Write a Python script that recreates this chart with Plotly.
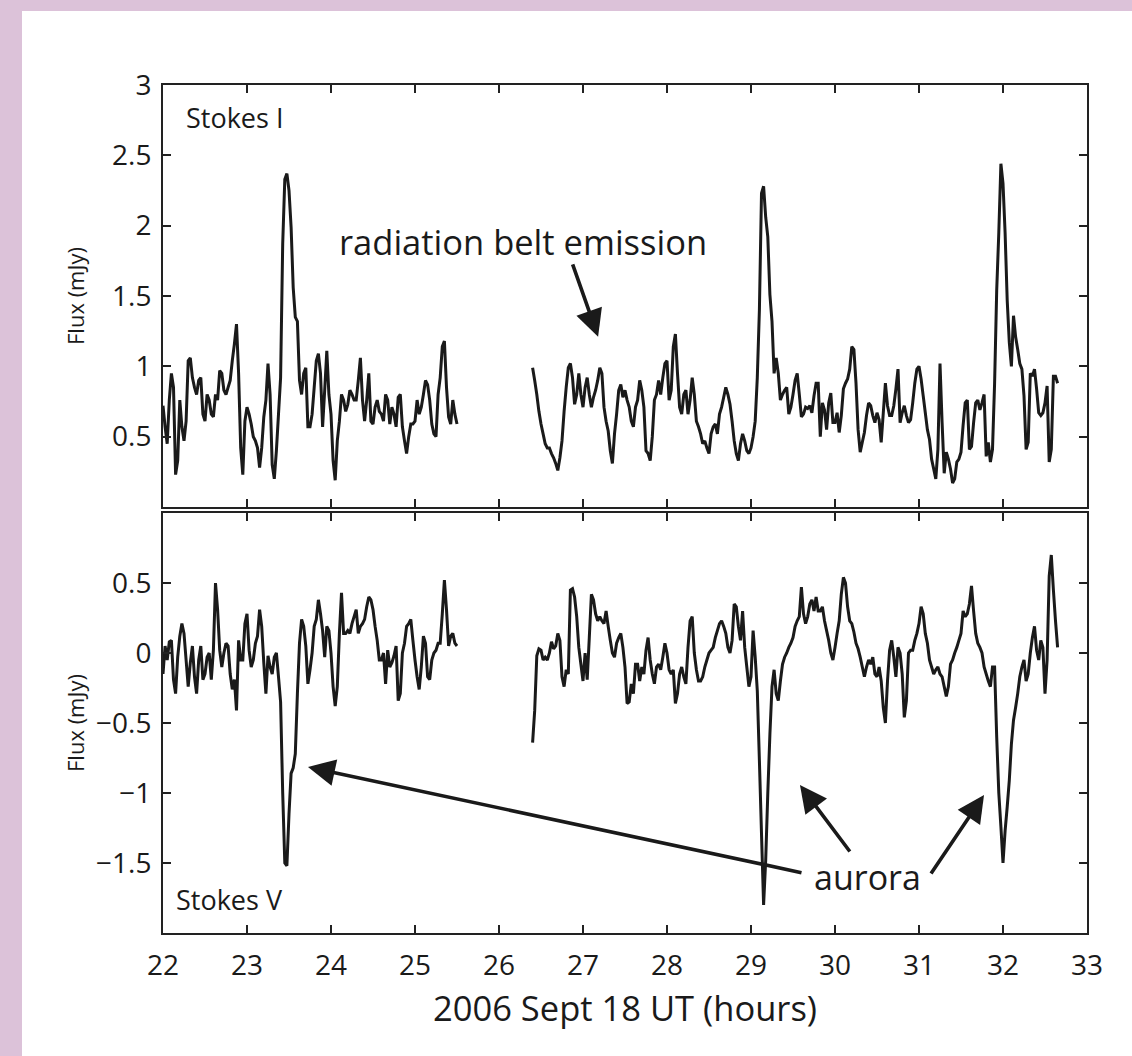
import numpy as np
import plotly.graph_objects as go

# ---------------- data ----------------
STEP = 0.025           # hours between samples
SEG1_START = 22.00     # first observing block start (h)
SEG2_START = 26.40     # second observing block start (h)

stokes_i_seg1 = [
    0.72, 0.57, 0.45, 0.76, 0.95, 0.85, 0.23, 0.33, 0.76, 0.57,
    0.47, 0.61, 1.04, 1.06, 0.92, 0.85, 0.80, 0.90, 0.92, 0.66,
    0.61, 0.80, 0.76, 0.66, 0.64, 0.80, 0.76, 0.97, 0.95, 0.83,
    0.80, 0.85, 0.90, 1.04, 1.16, 1.30, 0.95, 0.42, 0.23, 0.61,
    0.71, 0.66, 0.59, 0.50, 0.47, 0.42, 0.28, 0.42, 0.64, 0.76,
    1.02, 0.80, 0.30, 0.20, 0.40, 0.66, 0.92, 1.87, 2.33, 2.37,
    2.25, 1.99, 1.56, 1.35, 1.32, 0.90, 0.80, 0.95, 0.99, 0.57,
    0.57, 0.66, 0.85, 1.04, 1.09, 0.95, 0.57, 0.83, 1.11, 0.80,
    0.66, 0.33, 0.19, 0.47, 0.61, 0.80, 0.76, 0.68, 0.73, 0.83,
    0.80, 0.76, 0.76, 0.90, 1.06, 0.76, 0.61, 0.76, 0.95, 0.61,
    0.59, 0.71, 0.76, 0.68, 0.66, 0.61, 0.80, 0.76, 0.59, 0.71,
    0.66, 0.57, 0.78, 0.80, 0.57, 0.47, 0.38, 0.50, 0.59, 0.59,
    0.61, 0.76, 0.66, 0.71, 0.80, 0.90, 0.87, 0.76, 0.59, 0.52,
    0.50, 0.80, 0.92, 1.14, 1.18, 0.85, 0.64, 0.59, 0.76, 0.66,
    0.59,
]
stokes_i_seg2 = [
    0.99, 0.90, 0.80, 0.68, 0.59, 0.52, 0.45, 0.42, 0.42, 0.38,
    0.35, 0.31, 0.26, 0.35, 0.47, 0.68, 0.85, 0.99, 1.02, 0.92,
    0.73, 0.80, 0.95, 0.80, 0.71, 0.85, 0.92, 0.80, 0.71, 0.78,
    0.83, 0.90, 0.99, 0.95, 0.71, 0.61, 0.54, 0.40, 0.31, 0.52,
    0.66, 0.83, 0.87, 0.78, 0.83, 0.76, 0.71, 0.61, 0.57, 0.71,
    0.76, 0.90, 0.83, 0.71, 0.40, 0.38, 0.33, 0.50, 0.76, 0.80,
    0.90, 0.80, 0.92, 1.02, 1.04, 0.76, 0.83, 1.14, 1.23, 0.95,
    0.71, 0.66, 0.80, 0.83, 0.66, 0.76, 0.92, 0.80, 0.61, 0.57,
    0.52, 0.45, 0.47, 0.42, 0.38, 0.52, 0.57, 0.59, 0.52, 0.66,
    0.71, 0.78, 0.85, 0.80, 0.73, 0.61, 0.47, 0.38, 0.33, 0.45,
    0.52, 0.47, 0.40, 0.38, 0.42, 0.50, 0.61, 0.92, 1.40, 2.23,
    2.28, 2.06, 1.92, 1.51, 1.32, 0.95, 1.06, 0.95, 0.76, 0.80,
    0.83, 0.85, 0.66, 0.71, 0.80, 0.90, 0.95, 0.80, 0.64, 0.66,
    0.71, 0.70, 0.72, 0.67, 0.79, 0.88, 0.88, 0.50, 0.74, 0.69,
    0.55, 0.74, 0.81, 0.60, 0.60, 0.67, 0.53, 0.65, 0.84, 0.88,
    0.91, 0.98, 1.14, 1.12, 0.88, 0.55, 0.39, 0.46, 0.53, 0.65,
    0.74, 0.72, 0.65, 0.60, 0.67, 0.62, 0.46, 0.67, 0.88, 0.72,
    0.65, 0.65, 0.72, 0.84, 0.98, 0.60, 0.67, 0.72, 0.65, 0.60,
    0.62, 0.74, 0.88, 0.98, 1.00, 0.91, 0.79, 0.67, 0.55, 0.48,
    0.34, 0.27, 0.20, 0.41, 1.02, 0.60, 0.24, 0.39, 0.34, 0.27,
    0.17, 0.20, 0.32, 0.34, 0.39, 0.58, 0.74, 0.76, 0.41, 0.43,
    0.60, 0.74, 0.76, 0.69, 0.74, 0.80, 0.36, 0.46, 0.32, 0.41,
    0.88, 1.54, 1.95, 2.44, 2.30, 1.95, 1.47, 1.17, 1.00, 1.36,
    1.21, 1.12, 1.02, 0.98, 0.79, 0.41, 0.46, 0.95, 0.93, 0.98,
    0.84, 0.67, 0.65, 0.67, 0.74, 0.86, 0.32, 0.41, 0.93, 0.93,
    0.88,
]
stokes_v_seg1 = [
    -0.15, 0.05, -0.05, 0.08, 0.09, -0.19, -0.29, -0.03, 0.12, 0.21,
    0.14, -0.05, -0.24, -0.07, 0.05, -0.17, -0.29, -0.05, 0.05, -0.19,
    -0.15, -0.03, 0.00, -0.19, 0.02, 0.50, 0.31, 0.02, -0.10, 0.00,
    0.07, 0.05, -0.15, -0.26, -0.19, -0.41, 0.09, -0.05, -0.05, 0.21,
    0.28, 0.02, -0.10, -0.05, 0.07, 0.12, 0.31, 0.19, -0.07, -0.29,
    -0.02, -0.10, -0.15, -0.03, 0.00, -0.17, -0.35, -1.00, -1.50, -1.52,
    -1.15, -0.86, -0.82, -0.72, -0.29, 0.07, 0.24, 0.19, 0.05, -0.22,
    -0.12, 0.00, 0.19, 0.24, 0.38, 0.28, 0.16, -0.03, 0.19, 0.16,
    0.00, -0.24, -0.38, -0.24, 0.14, 0.43, 0.14, 0.14, 0.16, 0.14,
    0.21, 0.26, 0.31, 0.14, 0.19, 0.21, 0.24, 0.33, 0.40, 0.38,
    0.31, 0.19, 0.09, -0.05, -0.05, 0.00, -0.22, 0.02, -0.10, -0.07,
    -0.02, 0.05, -0.34, -0.29, 0.00, 0.07, 0.19, 0.21, 0.24, 0.09,
    -0.05, -0.17, -0.26, -0.10, 0.12, 0.07, -0.17, -0.19, -0.05, 0.00,
    0.02, 0.07, 0.07, 0.28, 0.52, 0.31, 0.05, 0.12, 0.14, 0.07,
    0.05,
]
stokes_v_seg2 = [
    -0.64, -0.41, -0.02, 0.03, 0.02, -0.05, -0.03, -0.05, 0.00, 0.08,
    0.03, 0.05, 0.14, 0.09, -0.17, -0.24, -0.12, -0.15, 0.45, 0.46,
    0.40, 0.26, 0.04, -0.08, -0.20, 0.00, -0.19, 0.11, 0.42, 0.38,
    0.28, 0.23, 0.26, 0.23, 0.21, 0.30, 0.19, 0.09, 0.00, -0.03,
    0.07, 0.11, 0.14, 0.04, -0.10, -0.36, -0.35, -0.22, -0.29, -0.08,
    -0.08, -0.20, -0.10, -0.15, 0.02, 0.11, -0.05, -0.15, -0.22, -0.10,
    -0.08, -0.12, -0.03, 0.07, 0.00, -0.12, -0.15, -0.12, -0.36, -0.29,
    -0.15, -0.10, -0.17, -0.22, 0.04, 0.23, 0.26, 0.00, -0.12, -0.20,
    -0.20, -0.17, -0.10, -0.05, 0.00, 0.02, 0.04, 0.11, 0.16, 0.21,
    0.23, 0.19, 0.14, 0.04, 0.00, 0.09, 0.35, 0.33, 0.19, 0.09,
    0.30, 0.04, -0.10, -0.24, -0.17, 0.16, -0.03, -0.27, -0.77, -1.29,
    -1.80, -1.48, -1.00, -0.58, -0.24, -0.12, -0.29, -0.34, -0.20, -0.08,
    -0.03, 0.00, 0.04, 0.07, 0.11, 0.19, 0.23, 0.26, 0.47, 0.28,
    0.21, 0.26, 0.35, 0.38, 0.30, 0.40, 0.30, 0.30, 0.33, 0.23,
    0.16, 0.09, 0.00, -0.05, 0.04, 0.14, 0.23, 0.42, 0.54, 0.50,
    0.33, 0.23, 0.21, 0.15, 0.07, 0.03, -0.03, -0.10, -0.17, -0.10,
    -0.05, -0.08, -0.03, -0.15, -0.17, -0.10, -0.20, -0.39, -0.50, -0.20,
    0.02, 0.09, -0.03, -0.17, 0.04, 0.00, -0.15, -0.46, -0.34, 0.00,
    0.02, 0.02, 0.09, 0.14, 0.21, 0.33, 0.28, 0.14, 0.07, -0.05,
    -0.10, -0.15, -0.12, -0.10, -0.15, -0.17, -0.24, -0.31, -0.24, -0.08,
    -0.05, 0.00, 0.04, 0.09, 0.14, 0.30, 0.26, 0.28, 0.35, 0.48,
    0.30, 0.14, 0.07, 0.04, 0.00, -0.10, -0.15, -0.20, -0.24, -0.10,
    -0.10, -0.60, -1.00, -1.24, -1.50, -1.27, -1.10, -0.91, -0.65, -0.48,
    -0.39, -0.29, -0.17, -0.10, -0.05, -0.20, -0.15, 0.00, 0.11, 0.19,
    0.02, -0.05, 0.09, 0.04, -0.29, -0.05, 0.55, 0.70, 0.45, 0.23,
    0.04,
]

x_tickvals = [22, 23, 24, 25, 26, 27, 28, 29, 30, 31, 32, 33]
x_ticktext = ["22", "23", "24", "25", "26", "27", "28", "29", "30", "31", "32", "33"]
yi_tickvals = [0.5, 1, 1.5, 2, 2.5, 3]
yi_ticktext = ["0.5", "1", "1.5", "2", "2.5", "3"]
yv_tickvals = [-1.5, -1, -0.5, 0, 0.5]
yv_ticktext = ["\u22121.5", "\u22121", "\u22120.5", "0", "0.5"]

# ---------------- build ----------------
t_i1 = np.round(SEG1_START + STEP * np.arange(len(stokes_i_seg1)), 4)
t_i2 = np.round(SEG2_START + STEP * np.arange(len(stokes_i_seg2)), 4)
t_v1 = np.round(SEG1_START + STEP * np.arange(len(stokes_v_seg1)), 4)
t_v2 = np.round(SEG2_START + STEP * np.arange(len(stokes_v_seg2)), 4)

xi = list(t_i1) + [None] + list(t_i2)
yi = stokes_i_seg1 + [None] + stokes_i_seg2
xv = list(t_v1) + [None] + list(t_v2)
yv = stokes_v_seg1 + [None] + stokes_v_seg2

FONT = "Open Sans, Noto Sans, DejaVu Sans, sans-serif"
INK = "#1a1a1a"
LINE_COL = "#1a1a1a"

fig = go.Figure()
fig.add_trace(go.Scatter(x=xi, y=yi, mode="lines", xaxis="x", yaxis="y",
                         line=dict(color=LINE_COL, width=3.0, simplify=False),
                         connectgaps=False, showlegend=False, hoverinfo="skip"))
fig.add_trace(go.Scatter(x=xv, y=yv, mode="lines", xaxis="x2", yaxis="y2",
                         line=dict(color=LINE_COL, width=3.0, simplify=False),
                         connectgaps=False, showlegend=False, hoverinfo="skip"))

W, H = 1132, 1056
ML, MR, MT, MB = 163, 45, 85, 123
PW, PH = W - ML - MR, H - MT - MB


def px_x(x):
    return (x - ML) / PW


def px_y(y):
    return (H - MB - y) / PH


axis_common = dict(
    showline=True, linecolor="#222222", linewidth=2, mirror="ticks",
    ticks="inside", ticklen=8, tickwidth=1.6, tickcolor="#222222",
    showgrid=False, zeroline=False,
    tickfont=dict(family=FONT, size=28, color=INK),
)

fig.update_layout(
    width=W, height=H,
    margin=dict(l=ML, r=MR, t=MT, b=MB),
    paper_bgcolor="#dcc2d9",
    plot_bgcolor="rgba(0,0,0,0)",
    font=dict(family=FONT, color=INK),
    xaxis=dict(range=[22, 33], domain=[0, 1], anchor="y",
               tickvals=x_tickvals, ticktext=x_ticktext, showticklabels=False,
               **axis_common),
    yaxis=dict(range=[0, 3], domain=[px_y(507), 1], anchor="x",
               tickvals=yi_tickvals, ticktext=yi_ticktext, ticklabelstandoff=4,
               **axis_common),
    xaxis2=dict(range=[22, 33], domain=[0, 1], anchor="y2",
                tickvals=x_tickvals, ticktext=x_ticktext, ticklabelstandoff=6,
                **axis_common),
    yaxis2=dict(range=[-2, 1], domain=[0, px_y(513)], anchor="x2",
                tickvals=yv_tickvals, ticktext=yv_ticktext, ticklabelstandoff=4,
                **axis_common),
    shapes=[dict(type="rect", xref="paper", yref="paper", layer="below",
                 x0=px_x(22), x1=px_x(W + 20), y0=px_y(H + 20), y1=px_y(11),
                 fillcolor="white", line=dict(width=0))],
)

ARW = dict(showarrow=True, arrowhead=2, arrowsize=1.5, arrowwidth=3.6, arrowcolor=INK)
annos = [
    # axis titles
    dict(text="2006 Sept 18 UT (hours)", xref="paper", yref="paper",
         x=0.5, y=px_y(1007), xanchor="center", yanchor="middle",
         showarrow=False, font=dict(size=34.5, family=FONT, color=INK)),
    dict(text="Flux (mJy)", xref="paper", yref="y domain", x=px_x(75), y=0.5,
         textangle=-90, xanchor="center", yanchor="middle", showarrow=False,
         font=dict(size=22, family=FONT, color=INK)),
    dict(text="Flux (mJy)", xref="paper", yref="y2 domain", x=px_x(75), y=0.5,
         textangle=-90, xanchor="center", yanchor="middle", showarrow=False,
         font=dict(size=22, family=FONT, color=INK)),
    # panel labels
    dict(text="Stokes I", xref="x", yref="y", x=22.25, y=2.77,
         xanchor="left", yanchor="middle", showarrow=False,
         font=dict(size=27, family=FONT, color=INK)),
    dict(text="Stokes V", xref="x2", yref="y2", x=22.13, y=-1.764,
         xanchor="left", yanchor="middle", showarrow=False,
         font=dict(size=27, family=FONT, color=INK)),
    # radiation belt label + arrow
    dict(text="radiation belt emission", xref="x", yref="y", x=26.28, y=1.89,
         xanchor="center", yanchor="middle", showarrow=False,
         font=dict(size=34.5, family=FONT, color=INK)),
    dict(text="", xref="x", yref="y", x=27.18, y=1.21, ax=-26, ay=-74, **ARW),
    # aurora label + arrows
    dict(text="aurora", xref="x2", yref="y2", x=30.385, y=-1.60,
         xanchor="center", yanchor="middle", showarrow=False,
         font=dict(size=34, family=FONT, color=INK)),
    dict(text="", xref="x2", yref="y2", x=23.726, y=-0.814, ax=495, ay=106, **ARW),
    dict(text="", xref="x2", yref="y2", x=29.583, y=-0.943, ax=51, ay=68, **ARW),
    dict(text="", xref="x2", yref="y2", x=31.774, y=-1.014, ax=-54, ay=80, **ARW),
]
fig.update_layout(annotations=annos)

fig.write_html("out.html")
